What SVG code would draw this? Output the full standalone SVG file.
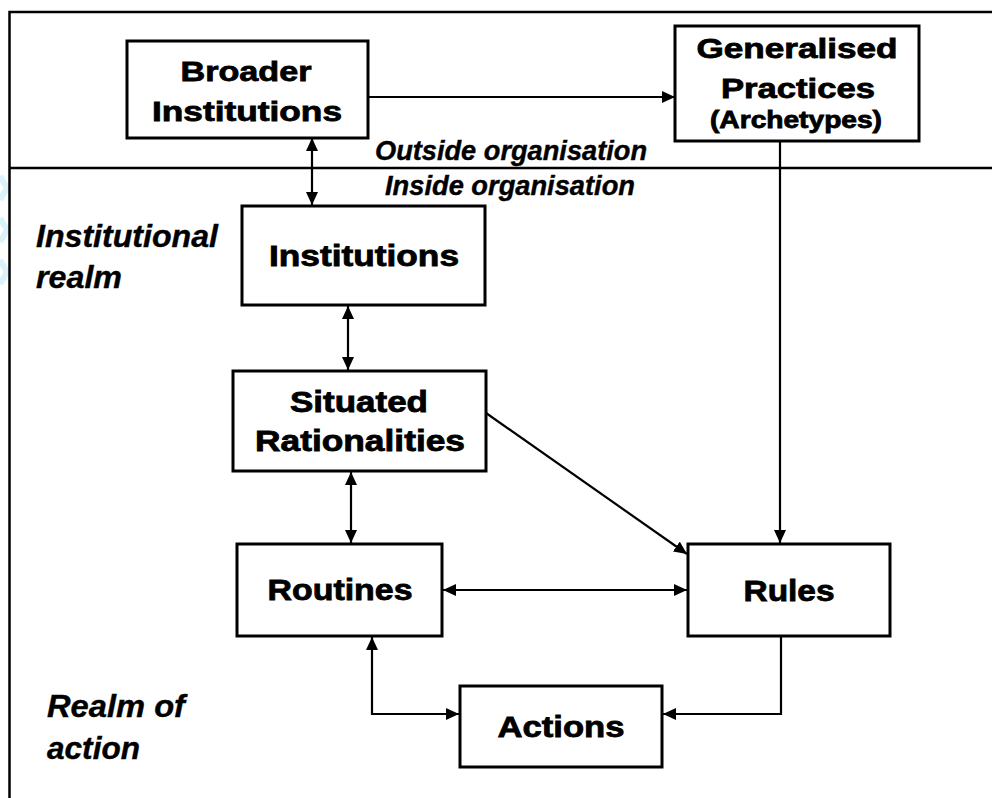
<svg xmlns="http://www.w3.org/2000/svg" width="992" height="798" viewBox="0 0 992 798">
  <defs>
    <marker id="arrow" viewBox="0 0 13 12" refX="13" refY="6" markerWidth="13" markerHeight="12" markerUnits="userSpaceOnUse" orient="auto-start-reverse">
      <path d="M0,0 L13,6 L0,12 z" fill="#000"/>
    </marker>
    <style>
      .frame { fill: none; stroke: #000; stroke-width: 2.5; }
      .box { fill: #fff; stroke: #000; stroke-width: 3; }
      .lbl { font-family: "Liberation Sans", Arial, sans-serif; font-weight: bold; fill: #000; stroke: #000; stroke-width: 0.8; text-anchor: middle; }
      .realm { font-family: "Liberation Sans", Arial, sans-serif; font-weight: bold; font-style: italic; fill: #000; stroke: #000; stroke-width: 0.4; }
      .conn { fill: none; stroke: #000; stroke-width: 2.2; }
      .two { marker-start: url(#arrow); marker-end: url(#arrow); }
      .one { marker-end: url(#arrow); }
      .mark { fill: none; stroke: #dcf2fb; stroke-width: 6; }
    </style>
  </defs>

  <rect width="992" height="798" fill="#fff"/>

  <!-- faint marks at the left margin -->
  <g id="margin-marks">
    <polyline class="mark" points="0,176 7,188 0,200"/>
    <polyline class="mark" points="0,218 7,230 0,242"/>
    <polyline class="mark" points="0,260 7,272 0,284"/>
  </g>

  <!-- outer frame and organisation boundary -->
  <g id="frame">
    <polyline class="frame" points="9.5,798 9.5,12 992,12"/>
    <line class="frame" x1="9.5" y1="168" x2="992" y2="168"/>
  </g>

  <!-- realm captions -->
  <g id="captions">
    <text class="realm" x="375" y="160" font-size="27" textLength="272" lengthAdjust="spacingAndGlyphs">Outside organisation</text>
    <text class="realm" x="385" y="195" font-size="27" textLength="250" lengthAdjust="spacingAndGlyphs">Inside organisation</text>
    <text class="realm" x="36" y="247" font-size="31" textLength="182" lengthAdjust="spacingAndGlyphs">Institutional</text>
    <text class="realm" x="36" y="288" font-size="31" textLength="86" lengthAdjust="spacingAndGlyphs">realm</text>
    <text class="realm" x="47" y="717" font-size="31" textLength="138" lengthAdjust="spacingAndGlyphs">Realm of</text>
    <text class="realm" x="47" y="759" font-size="31" textLength="93" lengthAdjust="spacingAndGlyphs">action</text>
  </g>

  <!-- connectors -->
  <g id="connectors">
    <line class="conn one" x1="369" y1="97" x2="675" y2="97"/>
    <line class="conn two" x1="312" y1="138" x2="312" y2="205"/>
    <line class="conn two" x1="348" y1="306" x2="348" y2="370"/>
    <line class="conn two" x1="351" y1="472" x2="351" y2="543"/>
    <line class="conn one" x1="486" y1="413" x2="687" y2="554"/>
    <line class="conn one" x1="780" y1="141" x2="780" y2="543"/>
    <line class="conn two" x1="443" y1="590" x2="687" y2="590"/>
    <polyline class="conn one" points="781,636 781,714 663,714"/>
    <polyline class="conn two" points="372,637 372,714 459,714"/>
  </g>

  <!-- nodes -->
  <g id="broader-institutions">
    <rect class="box" x="127" y="41" width="241" height="97"/>
    <text class="lbl" x="246" y="81" font-size="28" textLength="131" lengthAdjust="spacingAndGlyphs">Broader</text>
    <text class="lbl" x="247" y="121" font-size="28" textLength="190" lengthAdjust="spacingAndGlyphs">Institutions</text>
  </g>

  <g id="generalised-practices">
    <rect class="box" x="675" y="26" width="244" height="115"/>
    <text class="lbl" x="797" y="58" font-size="28" textLength="201" lengthAdjust="spacingAndGlyphs">Generalised</text>
    <text class="lbl" x="798" y="98" font-size="28" textLength="154" lengthAdjust="spacingAndGlyphs">Practices</text>
    <text class="lbl" x="796" y="128" font-size="23" textLength="172" lengthAdjust="spacingAndGlyphs">(Archetypes)</text>
  </g>

  <g id="institutions">
    <rect class="box" x="242" y="206" width="243" height="99"/>
    <text class="lbl" x="364" y="266" font-size="29" textLength="190" lengthAdjust="spacingAndGlyphs">Institutions</text>
  </g>

  <g id="situated-rationalities">
    <rect class="box" x="233" y="371" width="253" height="100"/>
    <text class="lbl" x="359" y="412" font-size="29" textLength="138" lengthAdjust="spacingAndGlyphs">Situated</text>
    <text class="lbl" x="360" y="451" font-size="29" textLength="210" lengthAdjust="spacingAndGlyphs">Rationalities</text>
  </g>

  <g id="routines">
    <rect class="box" x="237" y="544" width="205" height="92"/>
    <text class="lbl" x="340" y="600" font-size="30" textLength="145" lengthAdjust="spacingAndGlyphs">Routines</text>
  </g>

  <g id="rules">
    <rect class="box" x="688" y="544" width="202" height="92"/>
    <text class="lbl" x="789" y="601" font-size="30" textLength="91" lengthAdjust="spacingAndGlyphs">Rules</text>
  </g>

  <g id="actions">
    <rect class="box" x="460" y="686" width="202" height="81"/>
    <text class="lbl" x="561" y="737" font-size="30" textLength="127" lengthAdjust="spacingAndGlyphs">Actions</text>
  </g>
</svg>
